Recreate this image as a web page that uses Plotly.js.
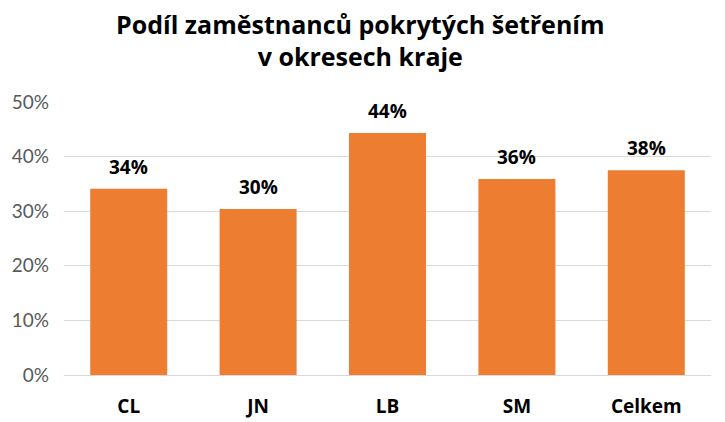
<!DOCTYPE html>
<html><head><meta charset="utf-8">
<script src="https://cdn.plot.ly/plotly-3.0.1.min.js"></script>
<style>html,body{margin:0;padding:0;background:#fff}#chart{width:725px;height:422px}</style>
</head><body><div id="chart"></div>
<script>
const categories = ["CL", "JN", "LB", "SM", "Celkem"];
const shares = [0.341, 0.304, 0.443, 0.359, 0.375];
const labels = ["34%", "30%", "44%", "36%", "38%"];
const titleText = "Podíl zaměstnanců pokrytých šetřením<br>v okresech kraje";

const BOLD = "'Open Sans', Lato, sans-serif";
const REG = "Lato, 'Open Sans', sans-serif";

const annotations = categories.map((c, i) => ({
  x: c, y: shares[i], xref: "x", yref: "y",
  text: labels[i], showarrow: false,
  xanchor: "center", yanchor: "bottom", yshift: 7,
  font: {family: BOLD, size: 19, color: "#000000", weight: 700}
}));

Plotly.newPlot("chart", [{
  type: "bar",
  x: categories,
  y: shares,
  marker: {color: "#ED7D31"},
  width: 0.595,
  hoverinfo: "skip"
}], {
  width: 725, height: 422,
  margin: {l: 63.5, r: 14, t: 102, b: 47},
  paper_bgcolor: "#ffffff", plot_bgcolor: "#ffffff",
  title: {text: titleText, x: 0.497, xanchor: "center", xref: "container", yref: "container",
          y: 0.92, yanchor: "middle",
          font: {family: BOLD, size: 25, color: "#000000", weight: 700}},
  annotations: annotations,
  xaxis: {tickfont: {family: BOLD, size: 19, color: "#000000", weight: 700},
          showline: false, ticks: "", showgrid: false, zeroline: false,
          ticklabelstandoff: 18},
  yaxis: {range: [0, 0.5], dtick: 0.1, tickformat: ".0%",
          tickfont: {family: REG, size: 19, color: "#595959"},
          gridcolor: "#D9D9D9", gridwidth: 1, zeroline: true, zerolinecolor: "#D9D9D9",
          showline: false, ticks: "", ticklabelstandoff: 14},
  showlegend: false,
  bargap: 0.405
}, {displayModeBar: false, staticPlot: true});
</script></body></html>
